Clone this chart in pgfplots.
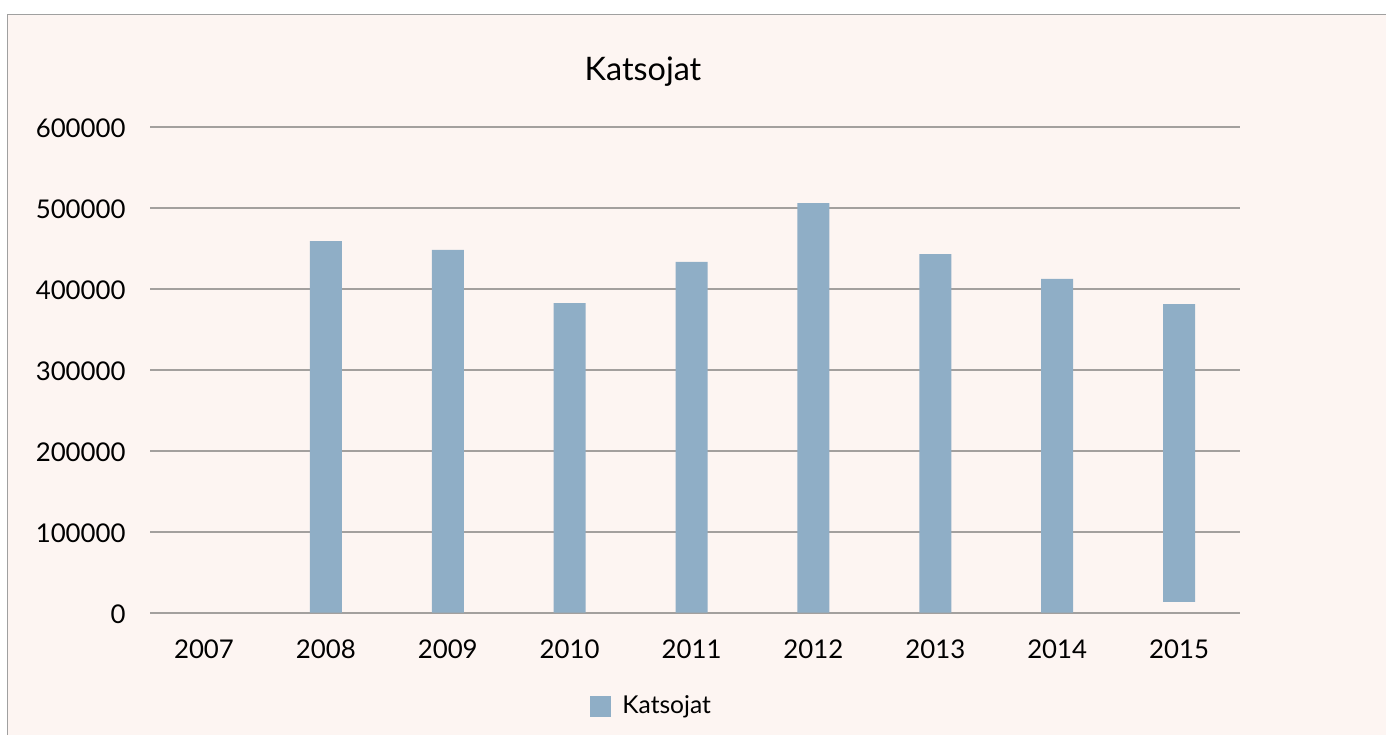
\documentclass[border=0pt]{standalone}
\usepackage{fontspec}
\setmainfont{Lato}
\usepackage{pgfplots}
\pgfplotsset{compat=1.18}
\definecolor{bgc}{RGB}{253,245,242}
\definecolor{barc}{RGB}{143,174,198}
\definecolor{gridc}{RGB}{163,160,158}
\definecolor{framec}{RGB}{160,160,160}
\pgfplotstableread{
x base val
0 0 0
1 0 458900
2 0 447800
3 0 382300
4 0 433000
5 0 505800
6 0 442800
7 0 412000
8 13400 367700
}\datatable
\begin{document}
\begin{tikzpicture}
\useasboundingbox (0,0) rectangle (693pt,-367.5pt);
\fill[bgc] (3.65pt,-7.25pt) rectangle (693pt,-367.5pt);
\draw[framec, line width=0.8pt] (3.65pt,-367.5pt) -- (3.65pt,-7.25pt) -- (693pt,-7.25pt);
\begin{axis}[
  at={(75pt,-306.35pt)}, anchor=south west,
  scale only axis, width=545pt, height=243pt,
  xmin=-0.443, xmax=8.5, ymin=0, ymax=600000,
  ybar stacked, bar width=0.2625,
  xtick={0,...,8},
  xticklabels={2007,2008,2009,2010,2011,2012,2013,2014,2015},
  ytick={0,100000,...,600000},
  ymajorgrids, grid style={gridc, line width=0.8pt},
  axis line style={draw=none}, major tick length=0pt,
  scaled y ticks=false,
  /pgf/number format/assume math mode=true,
  yticklabel style={/pgf/number format/fixed, /pgf/number format/1000 sep={}},
  tick label style={font=\fontsize{12.9}{15}\selectfont, inner sep=0pt, text=black},
  y tick label style={anchor=east, xshift=-12pt, yshift=-1pt},
  x tick label style={anchor=base, yshift=-22.8pt},
  every axis title shift=0pt,
  title={Katsojat},
  title style={at={(axis description cs:0.4523,1.0947)}, anchor=base, font=\fontsize{16.2}{20}\selectfont, inner sep=0pt},
  legend style={at={(axis description cs:0.4037,-0.192)}, anchor=west, draw=none, fill=none, font=\fontsize{12.3}{15}\selectfont, inner sep=0pt},
]
\addplot[fill=none, draw=none, forget plot] table[x=x, y=base] {\datatable};
\addplot[fill=barc, draw=none, legend image code/.code={\fill[barc] (0pt,-5.25pt) rectangle (10.5pt,5.25pt); \path (14pt,0pt);}] table[x=x, y=val] {\datatable};
\addlegendentry{Katsojat}
\end{axis}
\end{tikzpicture}
\end{document}
